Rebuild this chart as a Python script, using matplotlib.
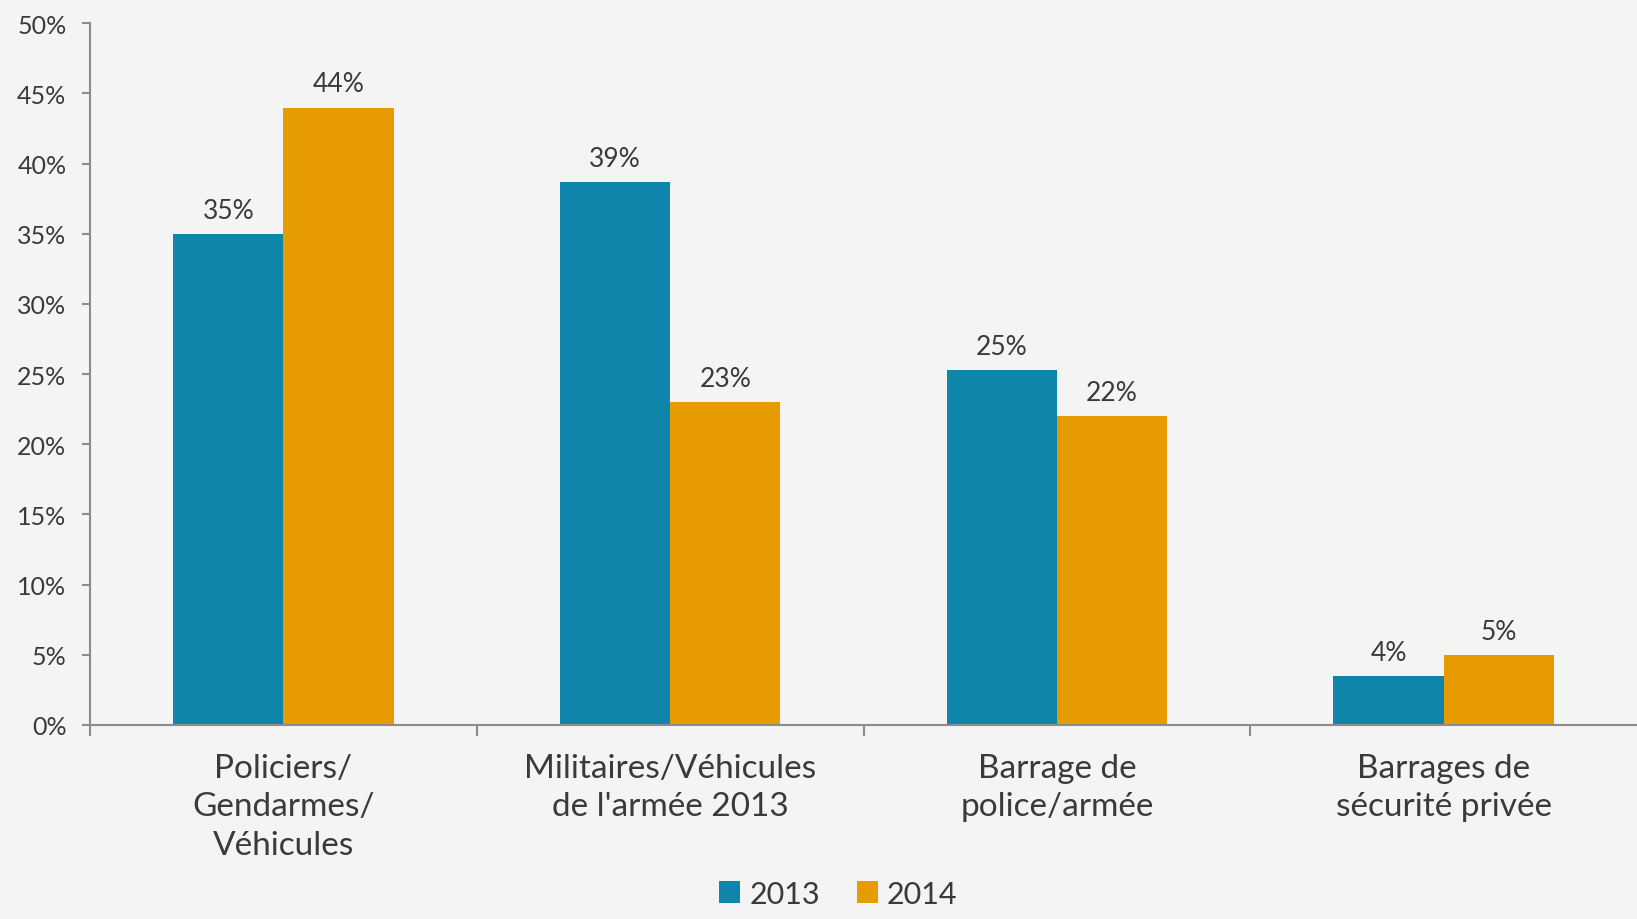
import numpy as np
import matplotlib.pyplot as plt
from matplotlib.ticker import FixedLocator, PercentFormatter

categories = ["Policiers/\nGendarmes/\nVéhicules",
              "Militaires/Véhicules\nde l'armée 2013",
              "Barrage de\npolice/armée",
              "Barrages de\nsécurité privée"]
vals_2013 = [35.0, 38.7, 25.3, 3.5]
vals_2014 = [44.0, 23.0, 22.0, 5.0]
labels_2013 = ["35%", "39%", "25%", "4%"]
labels_2014 = ["44%", "23%", "22%", "5%"]
series = ["2013", "2014"]

blue = "#1085ac"
orange = "#e69c00"
txt = "#3a3a3a"
gray = "#8c8c8c"

plt.rcParams['font.family'] = ['Lato', 'DejaVu Sans']

fig = plt.figure(figsize=(16.37, 9.2), dpi=100, facecolor="#f4f4f4")
ax = fig.add_axes([90/1637, 1-726/920, 1 - 90/1637, (726-24.3)/920])
ax.set_facecolor("#f4f4f4")

x = np.arange(len(categories))
w = 0.285
b1 = ax.bar(x - w/2, vals_2013, w, color=blue, label=series[0])
b2 = ax.bar(x + w/2, vals_2014, w, color=orange, label=series[1])

for bars, labs in ((b1, labels_2013), (b2, labels_2014)):
    for r, lab in zip(bars, labs):
        ax.annotate(lab, (r.get_x() + r.get_width()/2, r.get_height()),
                    xytext=(0, 8), textcoords="offset points",
                    ha="center", va="bottom", fontsize=19, color=txt)

ax.set_xlim(-0.5, 3.5)
ax.set_ylim(0, 50)
ax.yaxis.set_major_locator(FixedLocator(np.arange(0, 51, 5)))
ax.yaxis.set_major_formatter(PercentFormatter(decimals=0))
ax.set_xticks(x)
ax.set_xticklabels(categories, fontsize=24, color=txt, linespacing=1.35)
ax.set_xticks(np.arange(-0.5, 3.0, 1.0), minor=True)
ax.tick_params(axis="x", which="major", length=0, pad=20)
ax.tick_params(axis="x", which="minor", length=8, width=1.5, color=gray)
ax.tick_params(axis="y", length=6, width=1.5, color=gray, labelsize=18,
               labelcolor=txt, pad=11)

for s in ("top", "right"):
    ax.spines[s].set_visible(False)
for s in ("left", "bottom"):
    ax.spines[s].set_color(gray)
    ax.spines[s].set_linewidth(1.5)

fig.legend(handles=[b1, b2], loc="lower center", bbox_to_anchor=(0.512, -0.006),
           ncol=2, frameon=False, fontsize=22, handlelength=0.7, handleheight=0.7,
           handletextpad=0.3, columnspacing=1.2, labelcolor=txt, borderpad=0.05)

fig.savefig("out.png", dpi=100, facecolor=fig.get_facecolor())
